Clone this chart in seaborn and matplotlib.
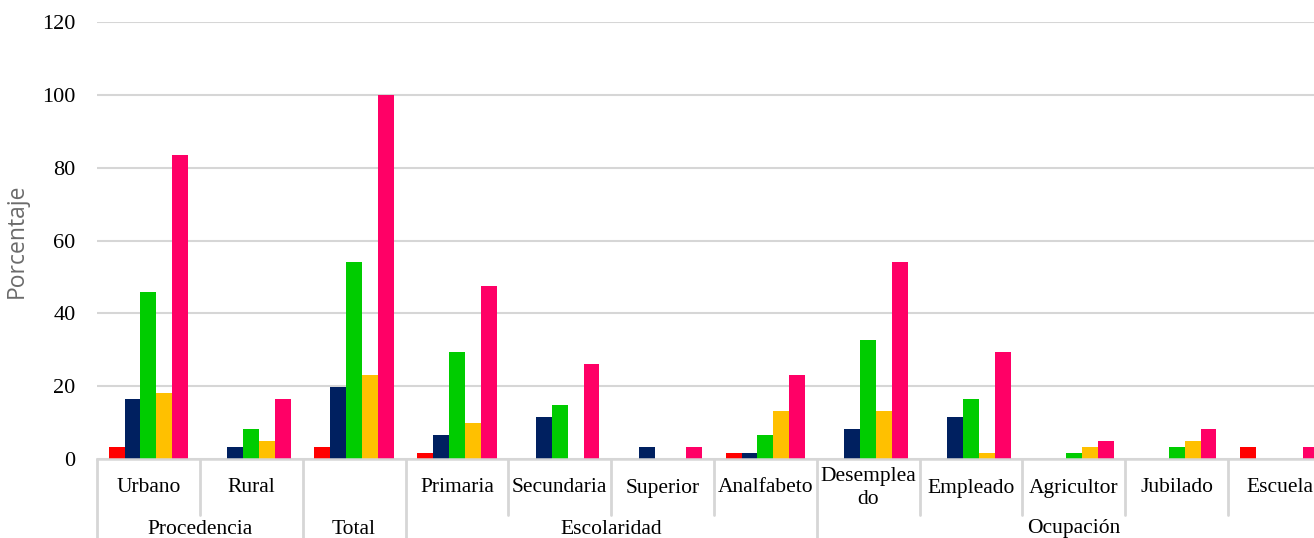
import matplotlib
matplotlib.use("Agg")
import matplotlib.pyplot as plt
import matplotlib.transforms as mtransforms
import numpy as np
import pandas as pd
import seaborn as sns

# Categories along the x axis (with their parent groups)
categories = ["Urbano", "Rural", "Total", "Primaria", "Secundaria", "Superior",
              "Analfabeto", "Desempleado", "Empleado", "Agricultor", "Jubilado", "Escuela"]
category_labels = ["Urbano", "Rural", "", "Primaria", "Secundaria", "Superior",
                   "Analfabeto", "Desemplea\ndo", "Empleado", "Agricultor", "Jubilado", "Escuela"]
groups = ["Procedencia", "Total", "Escolaridad", "Ocupación"]
group_spans = [(0, 1), (2, 2), (3, 6), (7, 11)]

# Percentages per series
series_names = ["Serie 1", "Serie 2", "Serie 3", "Serie 4", "Serie 5"]
serie_1 = [3.3, 0.0, 3.3, 1.6, 0.0, 0.0, 1.6, 0.0, 0.0, 0.0, 0.0, 3.3]
serie_2 = [16.4, 3.3, 19.7, 6.6, 11.5, 3.3, 1.6, 8.2, 11.5, 0.0, 0.0, 0.0]
serie_3 = [45.9, 8.2, 54.1, 29.5, 14.8, 0.0, 6.6, 32.8, 16.4, 1.6, 3.3, 0.0]
serie_4 = [18.0, 4.9, 23.0, 9.8, 0.0, 0.0, 13.1, 13.1, 1.6, 3.3, 4.9, 0.0]
serie_5 = [83.6, 16.4, 100.0, 47.5, 26.2, 3.3, 23.0, 54.1, 29.5, 4.9, 8.2, 3.3]
colors = ["#FF0000", "#002060", "#00CC00", "#FFC000", "#FF0066"]

rows = []
for name, vals in zip(series_names, [serie_1, serie_2, serie_3, serie_4, serie_5]):
    for cat, v in zip(categories, vals):
        rows.append({"categoria": cat, "serie": name, "porcentaje": v})
df = pd.DataFrame(rows)

sns.set_theme(style="white")
plt.rcParams["font.family"] = ["Liberation Serif", "DejaVu Serif"]

W, H = 1314, 538
fig = plt.figure(figsize=(W / 100, H / 100), dpi=100)
ax_left, ax_right, ax_top, ax_bottom = 97, 1331, 22, 459
ax = fig.add_axes([ax_left / W, (H - ax_bottom) / H,
                   (ax_right - ax_left) / W, (ax_bottom - ax_top) / H])

sns.barplot(data=df, x="categoria", y="porcentaje", hue="serie", order=categories,
            hue_order=series_names, palette=colors, saturation=1, width=0.77,
            linewidth=0, legend=False, ax=ax)

grid_c = "#D6D6D6"
ax.set_ylim(0, 120)
ax.set_xlim(-0.5, len(categories) - 0.5)
ax.set_yticks(np.arange(0, 121, 20))
ax.yaxis.grid(True, color=grid_c, linewidth=1.5)
ax.set_axisbelow(True)
for s in ["top", "right", "left"]:
    ax.spines[s].set_visible(False)
ax.spines["bottom"].set_color(grid_c)
ax.spines["bottom"].set_linewidth(1.8)
ax.tick_params(axis="y", length=0, pad=15.5, labelsize=16, labelcolor="#000000")
ax.set_xticks([])
ax.set_xlabel("")
ax.set_ylabel("Porcentaje", family="Open Sans", fontsize=16.5, color="#6B6B6B")
ax.yaxis.set_label_coords(-(ax_left - 17) / (ax_right - ax_left), 0.5)
ax.yaxis.label.set_va("center")

# Multi-level category axis below the plot
trans = mtransforms.blended_transform_factory(ax.transData, ax.transAxes)
ax_h = ax_bottom - ax_top

def yfrac(py):
    return (ax_bottom - py) / ax_h

for i, lab in enumerate(category_labels):
    if lab:
        ax.text(i, yfrac(488), lab, transform=trans, ha="center", va="center",
                fontsize=15.5, color="#000000", linespacing=1.25, clip_on=False)

full_dividers = [s[0] - 0.5 for s in group_spans] + [group_spans[-1][1] + 0.5]
short_dividers = []
for a, b in group_spans:
    short_dividers += [x + 0.5 for x in range(a, b)]

for x in full_dividers:
    ax.plot([x, x], [0, yfrac(560)], transform=trans, color=grid_c, lw=2, clip_on=False)
for x in short_dividers:
    ax.plot([x, x], [0, yfrac(515)], transform=trans, color=grid_c, lw=2, clip_on=False)

for g, (a, b) in zip(groups, group_spans):
    ax.text((a + b) / 2, yfrac(529), g, transform=trans, ha="center", va="center",
            fontsize=15.5, color="#000000", clip_on=False)

fig.savefig("out.png", dpi=100)
